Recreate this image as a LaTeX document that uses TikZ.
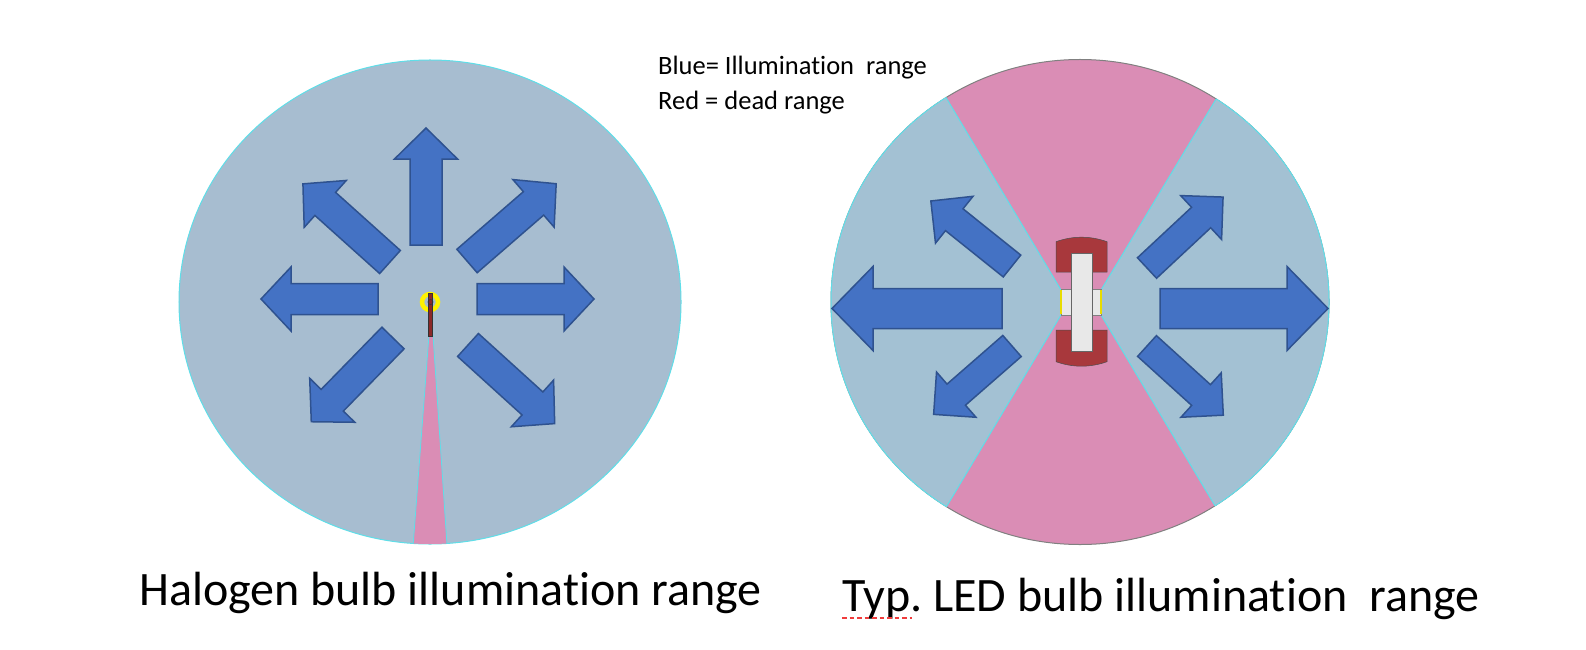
\documentclass[tikz,border=0pt]{standalone}
\usepackage{fontspec}
\setmainfont{Carlito}[Ligatures={NoCommon}]
\usetikzlibrary{calc}

\definecolor{haloblue}{RGB}{167,189,208}
\definecolor{ledblue}{RGB}{163,193,211}
\definecolor{deadpink}{RGB}{218,141,181}
\definecolor{arrowblue}{RGB}{68,114,196}
\definecolor{arrowedge}{RGB}{47,82,143}
\definecolor{edgecyan}{RGB}{95,222,232}
\definecolor{ledred}{RGB}{168,56,60}
\definecolor{filared}{RGB}{140,40,40}
\definecolor{chipgrey}{RGB}{232,232,232}
\definecolor{spellred}{RGB}{240,60,60}

% block arrow: tail, angle, length, half shaft, half head, head length
\newcommand{\blkarrow}[6]{%
  \begin{scope}[shift={#1}, rotate=#2]
    \filldraw[lightarrow] (0,-#4) -- ({#3-#6},-#4) -- ({#3-#6},-#5) -- (#3,0)
      -- ({#3-#6},#5) -- ({#3-#6},#4) -- (0,#4) -- cycle;
  \end{scope}}

\frenchspacing
\begin{document}
\begin{tikzpicture}[x=1bp, y=-1bp,
    lightarrow/.style={fill=arrowblue, draw=arrowedge, line width=1.5bp, line join=miter},
    caption/.style={anchor=base west, inner sep=0pt, font=\fontsize{48bp}{56bp}\selectfont},
    legend/.style={anchor=base west, inner sep=0pt, font=\fontsize{26.5bp}{32bp}\selectfont}]

\useasboundingbox (0,0) rectangle (1586,650);

% halogen bulb range
\filldraw[fill=haloblue, draw=edgecyan, line width=1bp] (430,302) ellipse [x radius=251bp, y radius=242bp];
\begin{scope}
  \clip (430,302) ellipse [x radius=251bp, y radius=242bp];
  \filldraw[fill=deadpink, draw=edgecyan, line width=0.8bp] (429,335) -- (412,560) -- (448,560) -- (433,335) -- cycle;
\end{scope}

\blkarrow{(426,245)}{90}{117}{16}{31.5}{31}
\blkarrow{(477,299)}{0}{117}{15.5}{32}{30}
\blkarrow{(378,299)}{180}{117}{15.5}{32}{30}
\blkarrow{(390,262)}{138.1}{117}{15.5}{31.5}{30}
\blkarrow{(467,261)}{40.9}{118}{15.5}{31.5}{30}
\blkarrow{(393,338)}{225.7}{117}{15.5}{31.5}{30}
\blkarrow{(468,345)}{-42.2}{117}{15.5}{31.5}{30}

% filament
\draw[yellow, line width=4.5bp] (430,302) circle [radius=8bp];
\filldraw[fill=filared, draw=black!80, line width=0.6bp] (428.5,293) rectangle (432.5,336);
\draw[black!80, line width=0.6bp] (430.5,302) circle [radius=2.5bp];

% LED bulb range
\filldraw[fill=deadpink, draw=gray, line width=1bp] (1080,302) ellipse [x radius=249bp, y radius=242.5bp];
\begin{scope}
  \clip (1080,302) ellipse [x radius=249bp, y radius=242.5bp];
  \filldraw[fill=ledblue, draw=edgecyan, line width=1bp] (1061,290) -- (828,-100) -- (700,-100) -- (700,700) -- (831,700) -- (1061,315) -- cycle;
  \filldraw[fill=ledblue, draw=edgecyan, line width=1bp] (1101,290) -- (1336,-100) -- (1460,-100) -- (1460,700) -- (1331,700) -- (1101,315) -- cycle;
\end{scope}
\begin{scope}
  \clip (1061,290) -- (828,-100) -- (700,-100) -- (700,700) -- (831,700) -- (1061,315) -- cycle
        (1101,290) -- (1336,-100) -- (1460,-100) -- (1460,700) -- (1331,700) -- (1101,315) -- cycle;
  \draw[edgecyan, line width=1bp] (1080,302) ellipse [x radius=249bp, y radius=242.5bp];
\end{scope}

\blkarrow{(1002,308.5)}{180}{170}{20}{42}{41}
\blkarrow{(1160,308.5)}{0}{168}{20}{42}{41}
\blkarrow{(1012,266)}{141.3}{104}{14}{30}{30}
\blkarrow{(1147,268)}{43}{104}{14}{30}{30}
\blkarrow{(1012,346)}{221.1}{104}{14}{30}{30}
\blkarrow{(1147,346)}{-42.2}{103}{14}{30}{30}

% LED chip
\filldraw[fill=ledred, draw=gray!60!black, line width=0.5bp] (1056,272) -- (1056,241.7) .. controls (1073,235.7) and (1090,235.7) .. (1107,241.7) -- (1107,272) -- cycle;
\filldraw[fill=ledred, draw=gray!60!black, line width=0.5bp] (1056,330) -- (1056,361.7) .. controls (1073,367.7) and (1090,367.7) .. (1107,361.7) -- (1107,330) -- cycle;
\filldraw[fill=chipgrey, draw=gray, line width=0.6bp] (1061,289) rectangle (1101,315);
\draw[yellow!80!olive, line width=1.2bp] (1061,290) -- (1061,314) (1101,290) -- (1101,314);
\filldraw[fill=chipgrey, draw=gray!80!black, line width=0.8bp] (1071,253) rectangle (1092,351);

% texts
\node[legend] (legblue) at (658,75) {Blue= Illumination~~range};
\node[legend] (legred) at (658,110) {Red = dead range};
\node[caption] (halocap) at (139,605) {Halogen bulb illumination range};
\node[caption] (ledcap) at (842,611) {Typ. LED bulb illumination~~range};
\draw[spellred, line width=2bp, dash pattern=on 4.5bp off 3bp] ($(ledcap.base west)+(0,7)$) -- ++(70,0);

\end{tikzpicture}
\end{document}
